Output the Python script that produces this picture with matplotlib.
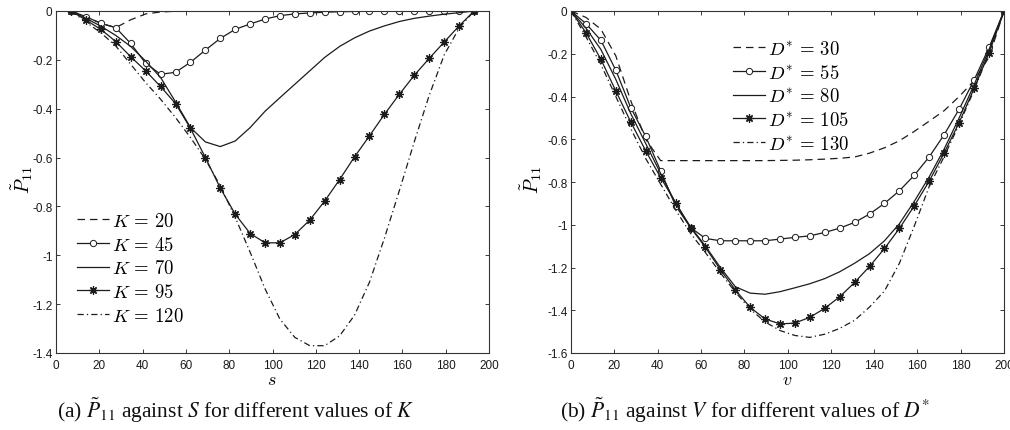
import matplotlib
matplotlib.use("Agg")
import matplotlib.pyplot as plt
from matplotlib.ticker import FixedLocator, FuncFormatter

plt.rcParams['mathtext.fontset'] = 'cm'
plt.rcParams['font.family'] = ['Liberation Sans', 'DejaVu Sans']

# ---------------- data ----------------
s_vals = [6.9, 13.8, 20.7, 27.6, 34.5, 41.4, 48.3, 55.2, 62.1, 69.0, 75.9, 82.8, 89.7, 96.6,
          103.4, 110.3, 117.2, 124.1, 131.0, 137.9, 144.8, 151.7, 158.6, 165.5, 172.4, 179.3,
          186.2, 193.1]
K20 = [0, -0.023, -0.050, -0.068, -0.036, -0.012, -0.004, -0.001, 0, 0, 0, 0, 0, 0,
       0, 0, 0, 0, 0, 0, 0, 0, 0, 0, 0, 0, 0, 0]
K45 = [0, -0.023, -0.051, -0.068, -0.133, -0.214, -0.259, -0.251, -0.210, -0.160, -0.112, -0.075,
       -0.053, -0.033, -0.019, -0.012, -0.008, -0.005, -0.003, -0.002, -0.001, -0.001, -0.001,
       -0.001, -0.001, -0.001, -0.001, 0]
K70 = [0, -0.030, -0.062, -0.100, -0.145, -0.205, -0.272, -0.372, -0.477, -0.536, -0.555, -0.532,
       -0.477, -0.410, -0.355, -0.300, -0.245, -0.190, -0.145, -0.110, -0.082, -0.061, -0.043,
       -0.030, -0.021, -0.013, -0.007, 0]
K95 = [0, -0.037, -0.075, -0.125, -0.187, -0.245, -0.309, -0.379, -0.480, -0.600, -0.725, -0.832,
       -0.911, -0.949, -0.949, -0.915, -0.856, -0.778, -0.690, -0.597, -0.511, -0.423, -0.341,
       -0.263, -0.194, -0.127, -0.061, 0]
K120 = [0, -0.045, -0.089, -0.143, -0.218, -0.293, -0.361, -0.436, -0.518, -0.607, -0.716, -0.845,
        -0.988, -1.138, -1.261, -1.336, -1.370, -1.370, -1.330, -1.245, -1.110, -0.930, -0.735,
        -0.535, -0.345, -0.180, -0.070, 0]
K_labels = [r'$K\,=\,20$', r'$K\,=\,45$', r'$K\,=\,70$', r'$K\,=\,95$', r'$K\,=\,120$']

v_vals = [0, 6.9, 13.8, 20.7, 27.6, 34.5, 41.4, 48.3, 55.2, 62.1, 69.0, 75.9, 82.8, 89.7, 96.6,
          103.4, 110.3, 117.2, 124.1, 131.0, 137.9, 144.8, 151.7, 158.6, 165.5, 172.4, 179.3,
          186.2, 193.1, 200.0]
D30 = [0, -0.030, -0.085, -0.210, -0.420, -0.600, -0.700, -0.700, -0.700, -0.700, -0.700, -0.700,
       -0.700, -0.700, -0.699, -0.698, -0.696, -0.693, -0.689, -0.683, -0.665, -0.640, -0.607,
       -0.563, -0.515, -0.466, -0.400, -0.326, -0.216, 0]
D55 = [0, -0.059, -0.137, -0.277, -0.452, -0.587, -0.748, -0.911, -1.013, -1.064, -1.075, -1.075,
       -1.075, -1.075, -1.067, -1.059, -1.052, -1.036, -1.016, -0.989, -0.950, -0.900, -0.841,
       -0.768, -0.682, -0.578, -0.459, -0.323, -0.170, 0]
D80 = [0, -0.080, -0.180, -0.320, -0.480, -0.620, -0.760, -0.900, -1.010, -1.100, -1.200, -1.290,
       -1.320, -1.325, -1.313, -1.295, -1.276, -1.252, -1.220, -1.180, -1.135, -1.075, -0.995,
       -0.890, -0.775, -0.645, -0.500, -0.345, -0.180, 0]
D105 = [0, -0.101, -0.226, -0.374, -0.519, -0.654, -0.779, -0.896, -1.013, -1.106, -1.210, -1.305,
        -1.387, -1.441, -1.464, -1.460, -1.433, -1.391, -1.337, -1.270, -1.195, -1.111, -1.017,
        -0.911, -0.795, -0.663, -0.522, -0.362, -0.195, 0]
D130 = [0, -0.120, -0.250, -0.400, -0.550, -0.690, -0.810, -0.930, -1.040, -1.130, -1.225, -1.315,
        -1.395, -1.455, -1.495, -1.518, -1.527, -1.512, -1.485, -1.447, -1.385, -1.310, -1.180,
        -1.005, -0.820, -0.680, -0.530, -0.370, -0.195, 0]
D_labels = [r'$D^{*}\,=\,30$', r'$D^{*}\,=\,55$', r'$D^{*}\,=\,80$', r'$D^{*}\,=\,105$',
            r'$D^{*}\,=\,130$']

x_ticks = [0, 20, 40, 60, 80, 100, 120, 140, 160, 180, 200]
y_ticks_a = [0, -0.2, -0.4, -0.6, -0.8, -1.0, -1.2, -1.4]
y_ticks_b = [0, -0.2, -0.4, -0.6, -0.8, -1.0, -1.2, -1.4, -1.6]

caption_a = r'(a) $\tilde{P}_{11}$ against $S$ for different values of $K$'
caption_b = r'(b) $\tilde{P}_{11}$ against $V$ for different values of $D^{*}$'

# ---------------- figure ----------------
W, H = 1010, 431
fig = plt.figure(figsize=(W / 100, H / 100), dpi=100)

def px(x0, y0, x1, y1):
    return [x0 / W, 1 - y1 / H, (x1 - x0) / W, (y1 - y0) / H]

ax_a = fig.add_axes(px(56, 12, 489, 354))
ax_b = fig.add_axes(px(571, 12, 1004, 354))

col = '#1c1c1c'
lw = 0.9
styles = [
    dict(color=col, lw=lw, dashes=(6, 4)),
    dict(color=col, lw=lw, marker='o', ms=4.5, mfc='white', mec=col, mew=0.7),
    dict(color=col, lw=lw),
    dict(color=col, lw=lw, marker=(8, 2, 0), ms=6, mfc=col, mec=col, mew=0.9),
    dict(color=col, lw=lw, dashes=(5, 2.5, 1, 2.5)),
]

for ys, lab, st in zip([K20, K45, K70, K95, K120], K_labels, styles):
    ax_a.plot(s_vals, ys, label=lab, **st)
for ys, lab, st in zip([D30, D55, D80, D105, D130], D_labels, styles):
    ax_b.plot(v_vals, ys, label=lab, **st)

fmt = FuncFormatter(lambda v, p: ('%g' % v) if abs(v) > 1e-9 else '0')
for ax, yt in [(ax_a, y_ticks_a), (ax_b, y_ticks_b)]:
    ax.set_xlim(0, 200)
    ax.set_ylim(min(yt), 0)
    ax.xaxis.set_major_locator(FixedLocator(x_ticks))
    ax.yaxis.set_major_locator(FixedLocator(yt))
    ax.xaxis.set_major_formatter(fmt)
    ax.yaxis.set_major_formatter(fmt)
    ax.tick_params(direction='in', top=True, right=True, length=3, width=0.6,
                   labelsize=8.5, colors='#1a1a1a', pad=2.5)
    ax.tick_params(axis='x', pad=4)
    for sp in ax.spines.values():
        sp.set_linewidth(0.8)
        sp.set_color('#333333')

leg_kw = dict(frameon=False, fontsize=13.5, handlelength=1.7, handletextpad=0.15,
              labelspacing=0.3, borderpad=0, borderaxespad=0, numpoints=1)
ax_a.legend(loc='upper left', bbox_to_anchor=((77 - 56) / 433, 1 - (213 - 12) / 342), **leg_kw)
ax_b.legend(loc='upper left', bbox_to_anchor=((733 - 571) / 433, 1 - (41 - 12) / 342), **leg_kw)

# axis labels
fig.text(22 / W, 1 - 180 / H, r'$\tilde{P}_{11}$', rotation=90, ha='center', va='center', fontsize=14)
fig.text(531 / W, 1 - 180 / H, r'$\tilde{P}_{11}$', rotation=90, ha='center', va='center', fontsize=14)
fig.text(272 / W, 1 - 381 / H, r'$s$', ha='center', va='center', fontsize=13)
fig.text(787 / W, 1 - 381 / H, r'$v$', ha='center', va='center', fontsize=13)

# captions
cap_kw = dict(ha='left', va='center', fontsize=15.5, family='Liberation Serif',
              math_fontfamily='stix', color='#111111')
fig.text(57 / W, 1 - 410 / H, caption_a, **cap_kw)
fig.text(560 / W, 1 - 410 / H, caption_b, **cap_kw)

fig.savefig('out.png', dpi=100)
